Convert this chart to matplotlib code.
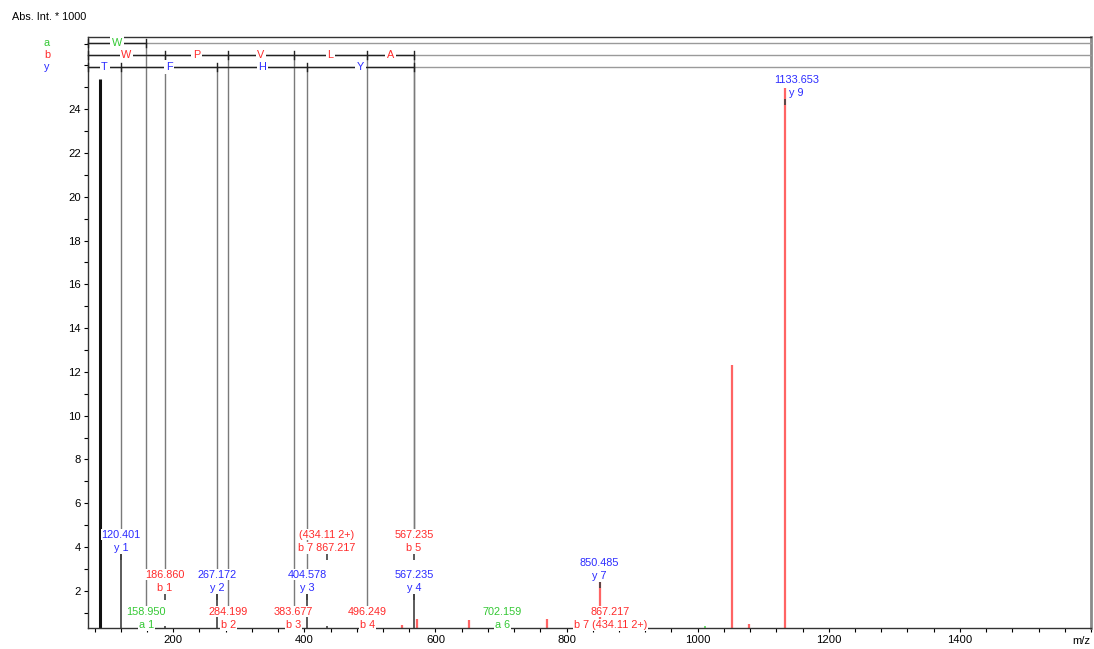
import matplotlib
matplotlib.use('Agg')
import matplotlib.pyplot as plt
from matplotlib.ticker import MultipleLocator, FixedLocator

plt.rcParams['font.family'] = ['Liberation Sans', 'DejaVu Sans']

# ---------------- data ----------------
peak_mz = [88.2, 120.401, 158.950, 186.860, 267.172, 284.199, 383.677, 404.578,
           434.11, 496.249, 549.0, 567.235, 571.5, 651.5, 702.159, 770.5,
           850.485, 867.217, 1011.0, 1052.5, 1078.5, 1133.653]
peak_int = [25.4, 3.7, 0.35, 0.4, 1.9, 0.35, 0.35, 1.9,
            0.4, 0.35, 0.45, 1.9, 0.7, 0.65, 0.35, 0.7,
            2.4, 0.35, 0.4, 12.3, 0.5, 24.95]
peak_kind = ['black', 'dark', 'dark', 'dark', 'dark', 'dark', 'dark', 'dark',
             'dark', 'dark', 'red', 'dark', 'red', 'red', 'dark', 'red',
             'red', 'dark', 'green', 'red', 'red', 'red']

ann_mz = [120.401, 158.950, 186.860, 267.172, 284.199, 383.677, 404.578, 434.11,
          496.249, 567.235, 567.235, 702.159, 850.485, 867.217]
ann_text1 = ['120.401', '158.950', '186.860', '267.172', '284.199', '383.677',
             '404.578', '(434.11 2+)', '496.249', '567.235', '567.235', '702.159',
             '850.485', '867.217']
ann_text2 = ['y 1', 'a 1', 'b 1', 'y 2', 'b 2', 'b 3', 'y 3', 'b 7 867.217',
             'b 4', 'b 5', 'y 4', 'a 6', 'y 7', 'b 7 (434.11 2+)']
ann_series = ['y', 'a', 'b', 'y', 'b', 'b', 'y', 'b', 'b', 'b', 'y', 'a', 'y', 'b']
ann_level = [4.57, 1.05, 2.74, 2.74, 1.05, 1.05, 2.74, 4.57, 1.05, 4.57, 2.74,
             1.05, 3.29, 1.05]

top_mz, top_text1, top_text2, top_level = 1133.653, '1133.653', 'y 9', 25.35

ladder_rows = ['a', 'b', 'y']
ladder_pos = {'a': [70, 158.950],
              'b': [70, 186.860, 284.199, 383.677, 496.249, 567.235],
              'y': [70, 120.401, 267.172, 404.578, 567.235]}
ladder_res = {'a': ['W'], 'b': ['W', 'P', 'V', 'L', 'A'], 'y': ['T', 'F', 'H', 'Y']}

# ---------------- style ----------------
series_color = {'a': '#33c833', 'b': '#ff2a2a', 'y': '#2a2aff'}
peak_color = {'black': '#111111', 'dark': '#404040', 'red': '#ff6464', 'green': '#55dd55'}
peak_lw = {'black': 2.2, 'dark': 1.2, 'red': 1.6, 'green': 1.2}
row_frac = {'a': 0.9898, 'b': 0.9695, 'y': 0.9492}
YMIN, YMAX = 0.3, 27.3
XMIN, XMAX = 70, 1600
LINE_GAP = 0.6
FS = 7.8

W, H = 1094, 649
fig = plt.figure(figsize=(W / 100, H / 100), dpi=100)
ax = fig.add_axes([88 / W, 1 - 628 / H, (1091 - 88) / W, (628 - 37) / H])
ax.set_xlim(XMIN, XMAX)
ax.set_ylim(YMIN, YMAX)


def d2f(v):
    return (v - YMIN) / (YMAX - YMIN)


# peaks
for mz, it, k in zip(peak_mz, peak_int, peak_kind):
    ax.vlines(mz, 0, it, colors=peak_color[k], lw=peak_lw[k], zorder=2)

xt = ax.get_xaxis_transform()
bb = dict(boxstyle='square,pad=0.08', fc='white', ec='none')

# annotation labels
label_top = {}
for mz, t1, t2, s, lv in zip(ann_mz, ann_text1, ann_text2, ann_series, ann_level):
    c = series_color[s]
    ax.text(mz, lv, t1, color=c, fontsize=FS, ha='center', va='center', bbox=bb, zorder=5)
    ax.text(mz, lv - LINE_GAP, t2, color=c, fontsize=FS, ha='center', va='center', bbox=bb, zorder=5)
    label_top[mz] = max(label_top.get(mz, 0), lv + 0.3)
    if lv > 1.5:
        b0 = lv - LINE_GAP - 0.25
        ax.vlines(mz, b0 - 0.3, b0, colors='#404040', lw=1.2, zorder=3)

# top peak label
ax.annotate(top_text1, (top_mz, top_level), xytext=(8, 0), textcoords='offset points',
            color=series_color['y'], fontsize=FS, ha='center', va='center', zorder=5,
            bbox=bb)
ax.annotate(top_text2, (top_mz, top_level - LINE_GAP), xytext=(3, 0), textcoords='offset points',
            color=series_color['y'], fontsize=FS, ha='left', va='center', zorder=5)
ax.vlines(top_mz, top_level - LINE_GAP - 0.55, top_level - LINE_GAP - 0.3,
          colors='#404040', lw=1.2, zorder=3)

# ladder
for r in ladder_rows:
    yf = row_frac[r]
    pos = ladder_pos[r]
    ax.plot([XMIN, XMAX], [yf, yf], transform=xt, color='#9a9a9a', lw=1, zorder=3, clip_on=False)
    ax.plot([pos[0], pos[-1]], [yf, yf], transform=xt, color='#222222', lw=1, zorder=4, clip_on=False)
    for p in pos:
        ax.plot([p, p], [yf - 0.006, yf + 0.006], transform=xt, color='#222222', lw=1,
                zorder=4, clip_on=False)
    for p in pos[1:]:
        bottom = d2f(label_top.get(p, YMIN))
        ax.plot([p, p], [yf, bottom], transform=xt, color='#7a7a7a', lw=1, zorder=2)
    for i, res in enumerate(ladder_res[r]):
        mid = (pos[i] + pos[i + 1]) / 2
        ax.text(mid, yf, res, transform=xt, color=series_color[r], fontsize=FS,
                ha='center', va='center', bbox=dict(boxstyle='square,pad=0.15', fc='white', ec='none'),
                zorder=6)
    fig.text(47 / W, 1 - (628 - yf * 591) / H, r, color=series_color[r], fontsize=FS,
             ha='center', va='center')

# axes styling
ax.xaxis.set_major_locator(FixedLocator([200, 400, 600, 800, 1000, 1200, 1400]))
ax.xaxis.set_minor_locator(MultipleLocator(40))
ax.yaxis.set_major_locator(MultipleLocator(2))
ax.yaxis.set_minor_locator(MultipleLocator(1))
ax.set_yticks(range(2, 25, 2))
ax.tick_params(axis='both', which='both', direction='out', length=3, width=0.8,
               labelsize=FS + 0.3, pad=2)
for s in ['left', 'bottom', 'top']:
    ax.spines[s].set_color('#333333')
    ax.spines[s].set_linewidth(1.0)
ax.spines['right'].set_color('#8a8a8a')
ax.spines['right'].set_linewidth(2)

fig.text(12 / W, 1 - 17 / H, 'Abs. Int. * 1000', fontsize=FS, ha='left', va='center')
fig.text(1090 / W, 1 - 641 / H, 'm/z', fontsize=FS + 0.3, ha='right', va='center')

fig.savefig('out.png', dpi=100)
